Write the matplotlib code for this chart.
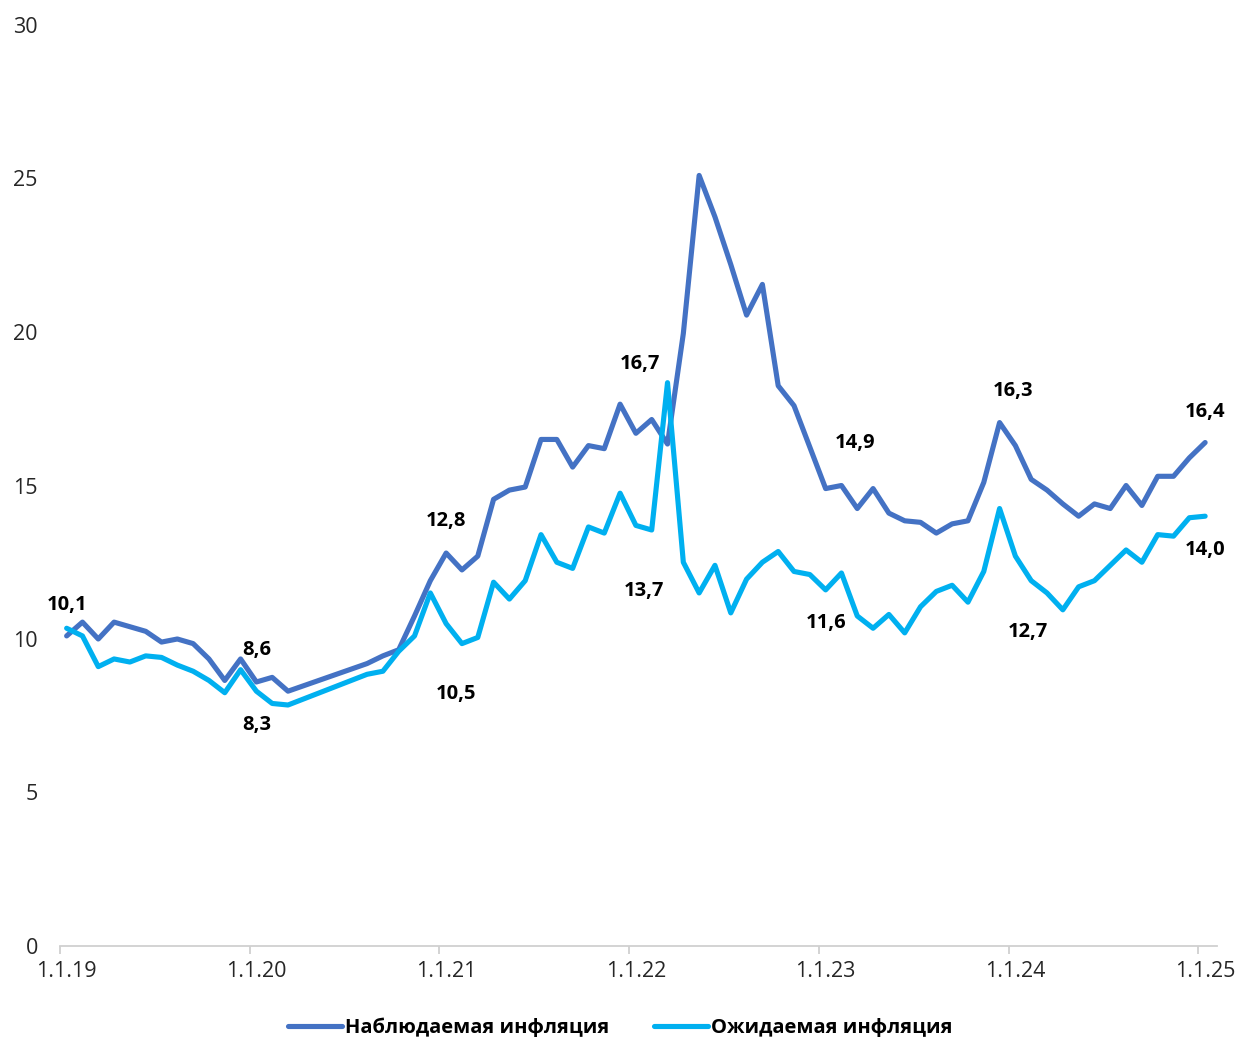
import numpy as np
import matplotlib
matplotlib.use("Agg")
import matplotlib.pyplot as plt
from matplotlib.ticker import FixedLocator, NullFormatter

nan = np.nan

# Monthly data, Jan 2019 .. Jan 2025 (index 0 = Jan 2019); NaN = no survey
observed = [
    10.1, 10.55, 10.0, 10.55, 10.4, 10.25, 9.9, 10.0, 9.85, 9.35, 8.65, 9.35,      # 2019
    8.6, 8.75, 8.3, nan, nan, nan, nan, 9.2, 9.45, 9.65, 10.75, 11.9,             # 2020
    12.8, 12.25, 12.7, 14.55, 14.85, 14.95, 16.5, 16.5, 15.6, 16.3, 16.2, 17.65,   # 2021
    16.7, 17.15, 16.35, 19.95, 25.1, 23.75, 22.2, 20.55, 21.55, 18.25, 17.6, 16.25,  # 2022
    14.9, 15.0, 14.25, 14.9, 14.1, 13.85, 13.8, 13.45, 13.75, 13.85, 15.1, 17.05,  # 2023
    16.3, 15.2, 14.85, 14.4, 14.0, 14.4, 14.25, 15.0, 14.35, 15.3, 15.3, 15.9,     # 2024
    16.4,                                                                          # 2025
]
expected = [
    10.35, 10.1, 9.1, 9.35, 9.25, 9.45, 9.4, 9.15, 8.95, 8.65, 8.25, 9.0,          # 2019
    8.3, 7.9, 7.85, nan, nan, nan, nan, 8.85, 8.95, 9.6, 10.1, 11.5,              # 2020
    10.5, 9.85, 10.05, 11.85, 11.3, 11.9, 13.4, 12.5, 12.3, 13.65, 13.45, 14.75,   # 2021
    13.7, 13.55, 18.35, 12.5, 11.5, 12.4, 10.85, 11.95, 12.5, 12.85, 12.2, 12.1,   # 2022
    11.6, 12.15, 10.75, 10.35, 10.8, 10.2, 11.05, 11.55, 11.75, 11.2, 12.2, 14.25, # 2023
    12.7, 11.9, 11.5, 10.95, 11.7, 11.9, 12.4, 12.9, 12.5, 13.4, 13.35, 13.95,     # 2024
    14.0,                                                                          # 2025
]
x_labels = ["1.1.19", "1.1.20", "1.1.21", "1.1.22", "1.1.23", "1.1.24", "1.1.25"]
series_names = ["Наблюдаемая инфляция", "Ожидаемая инфляция"]
y_ticks = [0, 5, 10, 15, 20, 25, 30]

# label offsets (points) for January values: (month index, dx, dy)
obs_labels = [(0, 0, 22), (12, 0, 23), (24, 0, 23), (36, 3, 50), (48, 21, 33), (60, -2, 39), (72, 0, 22)]
exp_labels = [(12, 0, -24), (24, 7, -51), (36, 6, -47), (48, 0, -24), (60, 9, -55), (72, 0, -24)]

C_OBS = "#4472C4"
C_EXP = "#00B0F0"

plt.rcParams['font.family'] = ['Open Sans', 'DejaVu Sans']

fig = plt.figure(figsize=(12.4, 10.37), dpi=100)
ax = fig.add_axes([60 / 1240, 1 - 946 / 1037, (1217 - 60) / 1240, (946 - 25) / 1037])

months = np.arange(len(observed))
obs = np.array(observed, dtype=float)
exp = np.array(expected, dtype=float)
mo = ~np.isnan(obs)
me = ~np.isnan(exp)

ax.plot(months[mo], obs[mo], color=C_OBS, lw=3.7, solid_joinstyle='round',
        solid_capstyle='round', label=series_names[0], zorder=3)
ax.plot(months[me], exp[me], color=C_EXP, lw=3.7, solid_joinstyle='round',
        solid_capstyle='round', label=series_names[1], zorder=3)

def fmt(v):
    return f"{v:.1f}".replace(".", ",")

for i, dx, dy in obs_labels:
    ax.annotate(fmt(obs[i]), (months[i], obs[i]), xytext=(dx, dy), textcoords='offset points',
                ha='center', va='center', fontsize=14.5, fontweight='bold', color='black')
for i, dx, dy in exp_labels:
    ax.annotate(fmt(exp[i]), (months[i], exp[i]), xytext=(dx, dy), textcoords='offset points',
                ha='center', va='center', fontsize=14.5, fontweight='bold', color='black')

ax.set_xlim(-0.42, 72.75)
ax.set_ylim(0, 30)
ax.set_yticks(y_ticks)
ax.set_yticklabels([str(t) for t in y_ticks])
ax.set_xticks(np.arange(0, 73, 12))
ax.set_xticklabels(x_labels)
ax.xaxis.set_minor_locator(FixedLocator(np.arange(0, 73, 12) - 0.42))
ax.xaxis.set_minor_formatter(NullFormatter())
ax.tick_params(axis='x', which='major', length=0, pad=11, labelsize=15.5, labelcolor='#262626')
ax.tick_params(axis='x', which='minor', length=6, width=1.3, color='#D0D0D0', direction='out')
ax.tick_params(axis='y', length=0, pad=16, labelsize=15.5, labelcolor='#262626')

for s in ['top', 'right', 'left']:
    ax.spines[s].set_visible(False)
ax.spines['bottom'].set_color('#D0D0D0')
ax.spines['bottom'].set_linewidth(1.3)

leg = fig.legend(loc='center', bbox_to_anchor=(0.5, 1 - 1028 / 1037), ncol=2, frameon=False,
                 prop={'weight': 'bold', 'size': 14.5}, handlelength=2.7, handletextpad=0.15,
                 columnspacing=2.2)

fig.savefig("out.png", dpi=100)
